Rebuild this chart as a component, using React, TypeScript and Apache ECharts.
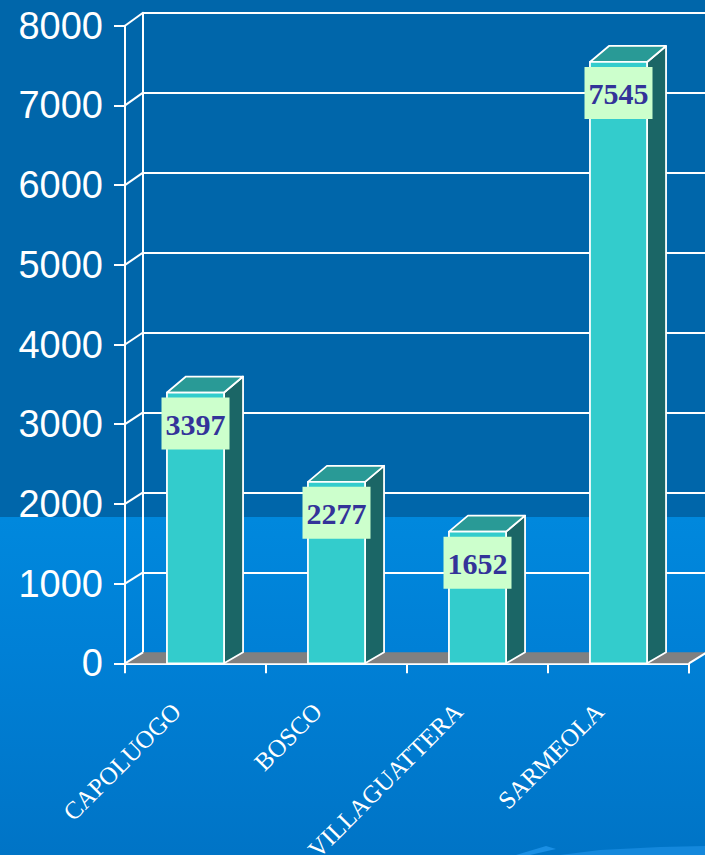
import React, { useEffect, useRef } from "react";
import * as echarts from "echarts";

const categories = ["CAPOLUOGO", "BOSCO", "VILLAGUATTERA", "SARMEOLA"];
const values = [3397, 2277, 1652, 7545];
const yTicks = [0, 1000, 2000, 3000, 4000, 5000, 6000, 7000, 8000];
const Y_MAX = 8000;
const Y_INTERVAL = 1000;

const WALL_DX = 18;
const FLOOR_DY = -11;
const TOP_WALL_DY = -13;
const BAR_DX = 19;
const BAR_TOP_DY = -16;

export default function App() {
  const ref = useRef<HTMLDivElement>(null);

  useEffect(() => {
    const chart = echarts.init(ref.current!, null, { renderer: "svg" });

    const gridBase = { top: 25.7, bottom: 191.7, containLabel: false, outerBoundsMode: "none" };

    const option: any = {
      animation: false,
      backgroundColor: "transparent",
      grid: [
        { ...gridBase, left: 125, right: 16 },
        { ...gridBase, left: 106, right: 35 },
        { left: 125 + WALL_DX, right: 16 - WALL_DX, top: 25.7 + TOP_WALL_DY, bottom: 191.7 - FLOOR_DY, containLabel: false, outerBoundsMode: "none" },
      ],
      xAxis: [
        {
          gridIndex: 0,
          type: "category",
          data: categories,
          axisLine: { show: true, lineStyle: { color: "#ffffff", width: 2 } },
          axisTick: { show: true, length: 10, lineStyle: { color: "#ffffff", width: 2 } },
          axisLabel: { show: false },
          splitLine: { show: false },
        },
        {
          gridIndex: 1,
          type: "category",
          data: categories,
          axisLine: { show: false },
          axisTick: { show: false },
          axisLabel: {
            show: true,
            interval: 0,
            rotate: 45,
            margin: 44,
            color: "#ffffff",
            fontFamily: "Liberation Serif",
            fontSize: 25,
          },
          splitLine: { show: false },
        },
        {
          gridIndex: 2,
          type: "category",
          data: categories,
          show: false,
        },
      ],
      yAxis: [
        {
          gridIndex: 0,
          type: "value",
          min: 0,
          max: Y_MAX,
          interval: Y_INTERVAL,
          axisLine: { show: true, lineStyle: { color: "#ffffff", width: 2 } },
          axisTick: { show: true, length: 11, lineStyle: { color: "#ffffff", width: 2 } },
          axisLabel: {
            color: "#ffffff",
            fontFamily: "Liberation Sans",
            fontSize: 38,
            margin: 22,
            formatter: (v: number) => String(v),
          },
          splitLine: { show: false },
        },
        {
          gridIndex: 1,
          type: "value",
          min: 0,
          max: Y_MAX,
          show: false,
        },
        {
          gridIndex: 2,
          type: "value",
          min: 0,
          max: Y_MAX,
          interval: Y_INTERVAL,
          axisLine: { show: true, lineStyle: { color: "#ffffff", width: 2 } },
          axisTick: { show: false },
          axisLabel: { show: false },
          splitLine: { show: true, showMinLine: false, lineStyle: { color: "#ffffff", width: 2 } },
        },
      ],
      graphic: [
        {
          type: "polygon",
          z: -1,
          silent: true,
          shape: { points: [[516, 855], [546, 846], [556, 849], [530, 855]] },
          style: { fill: "#1a8fe4" },
        },
        {
          type: "polygon",
          z: -1,
          silent: true,
          shape: { points: [[560, 855], [600, 850], [660, 847], [705, 846], [705, 855]] },
          style: { fill: "#1488dc" },
        },
      ],
      series: [
        {
          type: "custom",
          name: "floor",
          xAxisIndex: 0,
          yAxisIndex: 0,
          z: 1,
          silent: true,
          data: [[0, 0]],
          renderItem: (params: any, api: any) => {
            const cs = params.coordSys;
            const y0 = api.coord([0, 0])[1];
            const xL = cs.x;
            const xR = cs.x + cs.width;
            return {
              type: "group",
              children: [
                {
                  type: "polygon",
                  shape: {
                    points: [
                      [xL, y0],
                      [xR, y0],
                      [xR + WALL_DX, y0 + FLOOR_DY],
                      [xL + WALL_DX, y0 + FLOOR_DY],
                    ],
                  },
                  style: { fill: "#808080" },
                },
                {
                  type: "line",
                  shape: { x1: xR, y1: y0, x2: xR + WALL_DX, y2: y0 + FLOOR_DY },
                  style: { stroke: "#ffffff", lineWidth: 2 },
                },
                {
                  type: "line",
                  shape: { x1: xR, y1: y0, x2: xR, y2: y0 + 10 },
                  style: { stroke: "#ffffff", lineWidth: 2 },
                },
              ],
            };
          },
        },
        {
          type: "custom",
          name: "connectors",
          xAxisIndex: 0,
          yAxisIndex: 0,
          z: 1,
          silent: true,
          data: yTicks.map((v) => [0, v]),
          renderItem: (params: any, api: any) => {
            const cs = params.coordSys;
            const v = api.value(1);
            const y = api.coord([0, v])[1];
            const dy = FLOOR_DY + (TOP_WALL_DY - FLOOR_DY) * (v / Y_MAX);
            return {
              type: "line",
              shape: { x1: cs.x, y1: y, x2: cs.x + WALL_DX, y2: y + dy },
              style: { stroke: "#ffffff", lineWidth: 2 },
            };
          },
        },
        {
          type: "custom",
          name: "bars",
          xAxisIndex: 0,
          yAxisIndex: 0,
          z: 3,
          data: values.map((v, i) => [i, v]),
          renderItem: (params: any, api: any) => {
            const i = api.value(0);
            const v = api.value(1);
            const top = api.coord([i, v]);
            const base = api.coord([i, 0]);
            const bw = api.size([1, 0])[0] * 0.405;
            const cx = top[0];
            const xl = cx - bw / 2;
            const xr = cx + bw / 2;
            const yt = top[1];
            const yb = base[1];
            const stroke = { stroke: "#ffffff", lineWidth: 1.8, lineJoin: "round" };
            return {
              type: "group",
              children: [
                {
                  type: "polygon",
                  shape: {
                    points: [
                      [xr, yt],
                      [xr + BAR_DX, yt + BAR_TOP_DY],
                      [xr + BAR_DX, yb + FLOOR_DY],
                      [xr, yb],
                    ],
                  },
                  style: { fill: "#1b6666", ...stroke },
                },
                {
                  type: "polygon",
                  shape: {
                    points: [
                      [xl, yt],
                      [xr, yt],
                      [xr + BAR_DX, yt + BAR_TOP_DY],
                      [xl + BAR_DX, yt + BAR_TOP_DY],
                    ],
                  },
                  style: { fill: "#299a96", ...stroke },
                },
                {
                  type: "rect",
                  shape: { x: xl, y: yt, width: bw, height: yb - yt },
                  style: { fill: "#33cccc", ...stroke },
                },
                {
                  type: "rect",
                  shape: { x: cx - 34, y: yt + 5, width: 68, height: 52 },
                  style: { fill: "#ccffcc" },
                },
                {
                  type: "text",
                  x: cx,
                  y: yt + 31.5,
                  style: {
                    text: String(v),
                    fill: "#333399",
                    font: "bold 30px 'Liberation Serif'",
                    align: "center",
                    verticalAlign: "middle",
                  },
                },
              ],
            };
          },
        },
      ],
    };

    chart.setOption(option);
    return () => chart.dispose();
  }, []);

  return (
    <div
      ref={ref}
      style={{
        position: "fixed",
        left: 0,
        top: 0,
        width: 705,
        height: 855,
        background:
          "linear-gradient(to bottom, #0066aa 0px, #0066aa 517px, #0088dd 517px, #0080d6 650px, #0074c6 855px)",
      }}
    />
  );
}
